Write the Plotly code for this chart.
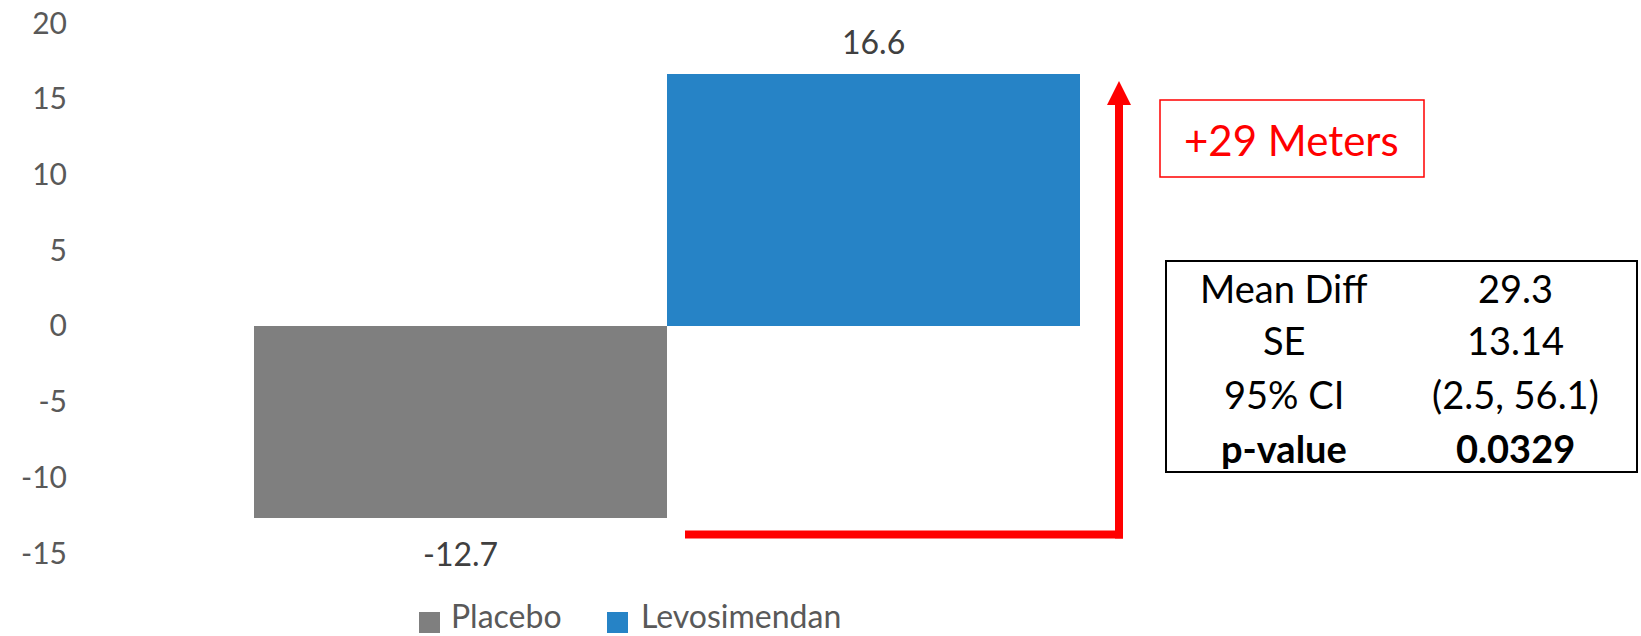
import plotly.graph_objects as go

# ---- data ----
categories = ["Placebo", "Levosimendan"]
values = [-12.7, 16.6]
bar_colors = ["#7F7F7F", "#2683C6"]
y_ticks = [-15, -10, -5, 0, 5, 10, 15, 20]
stat_labels = ["Mean Diff", "SE", "95% CI", "p-value"]
stat_values = ["29.3", "13.14", "(2.5, 56.1)", "0.0329"]
diff_label = "+29 Meters"

# ---- layout geometry (page pixels; body margin removed below) ----
W, H = 1641, 636
PL, PT, PB = 68, 23, 553          # plot area edges
ML, MT, MB, MR = PL, PT, H - PB, 0
PW, PH = W - ML - MR, H - MT - MB
FONT = "Lato"

def px(xp):
    return (xp - PL) / PW

def py(yp):
    return 1 - (yp - PT) / PH

# x range so that bars (width 1) sit at the reference pixel positions
bar_px = 413.0
left_edge_px = 254.0
x_min = -0.5 - (left_edge_px - PL) / bar_px
x_max = x_min + PW / bar_px

fig = go.Figure()
fig.add_trace(go.Bar(
    x=categories, y=values, marker=dict(color=bar_colors, line=dict(width=0)),
    width=1, showlegend=False, hoverinfo="x+y",
))

annotations = []
# data labels
for c, v in zip(categories, values):
    annotations.append(dict(
        x=c, y=v, xref="x", yref="y", text=f"{v}", showarrow=False,
        yanchor="middle", yshift=33 if v > 0 else -35,
        font=dict(family=FONT, size=32, color="#404040"),
    ))

shapes = []
RED = "#FF0000"
# red bracket arrow
shapes.append(dict(type="line", xref="paper", yref="paper",
                   x0=px(685), x1=px(1123), y0=py(534.5), y1=py(534.5),
                   line=dict(color=RED, width=8)))
shapes.append(dict(type="line", xref="paper", yref="paper",
                   x0=px(1119), x1=px(1119), y0=py(538.5), y1=py(104),
                   line=dict(color=RED, width=8)))
shapes.append(dict(type="path", xref="paper", yref="paper",
                   path=f"M {px(1107)},{py(105)} L {px(1131)},{py(105)} L {px(1119)},{py(81)} Z",
                   fillcolor=RED, line=dict(color=RED, width=0)))
# red label box
shapes.append(dict(type="rect", xref="paper", yref="paper",
                   x0=px(1160), x1=px(1424), y0=py(100), y1=py(177),
                   line=dict(color=RED, width=1.5), fillcolor="rgba(0,0,0,0)"))
annotations.append(dict(x=px(1291), y=py(140), xref="paper", yref="paper",
                        text=diff_label, showarrow=False, xanchor="center", yanchor="middle",
                        font=dict(family=FONT, size=42, color=RED)))

# stats table
shapes.append(dict(type="rect", xref="paper", yref="paper",
                   x0=px(1166), x1=px(1637), y0=py(261), y1=py(472),
                   line=dict(color="#000000", width=2), fillcolor="rgba(0,0,0,0)"))
row_y = [288, 340, 394, 448]
for i, (lab, val) in enumerate(zip(stat_labels, stat_values)):
    bold = i == len(stat_labels) - 1
    for xc, t in ((1284, lab), (1515, val)):
        annotations.append(dict(
            x=px(xc), y=py(row_y[i]), xref="paper", yref="paper",
            text=f"<b>{t}</b>" if bold else t, showarrow=False,
            xanchor="center", yanchor="middle",
            font=dict(family=FONT, size=38, color="#000000"),
        ))

# manual legend
leg_sq = [(419, 440), (607, 628)]
leg_tx = [450, 640]
for c, col, (a, b), tx in zip(categories, bar_colors, leg_sq, leg_tx):
    shapes.append(dict(type="rect", xref="paper", yref="paper",
                       x0=px(a), x1=px(b), y0=py(612), y1=py(633),
                       fillcolor=col, line=dict(width=0)))
    annotations.append(dict(x=px(tx), y=py(H), xref="paper", yref="paper",
                            text=c, showarrow=False, xanchor="left", yanchor="bottom",
                            borderpad=0,
                            font=dict(family=FONT, size=32, color="#595959")))

fig.update_layout(
    width=W, height=H,
    margin=dict(l=ML, r=MR, t=MT, b=MB, autoexpand=False),
    paper_bgcolor="white", plot_bgcolor="white",
    bargap=0,
    xaxis=dict(range=[x_min, x_max], showticklabels=False, showgrid=False,
               zeroline=False, showline=False, ticks=""),
    yaxis=dict(range=[-15, 20], tickvals=y_ticks, ticktext=[str(t) for t in y_ticks],
               showgrid=False, zeroline=False, showline=False, ticks="",
               ticklabeloverflow="allow",
               tickfont=dict(family=FONT, size=30, color="#595959")),
    annotations=annotations, shapes=shapes,
    showlegend=False,
)

fig.write_html("out.html",
               config={"displayModeBar": False},
               post_script="document.body.style.margin='0px';document.body.style.overflow='hidden';")
